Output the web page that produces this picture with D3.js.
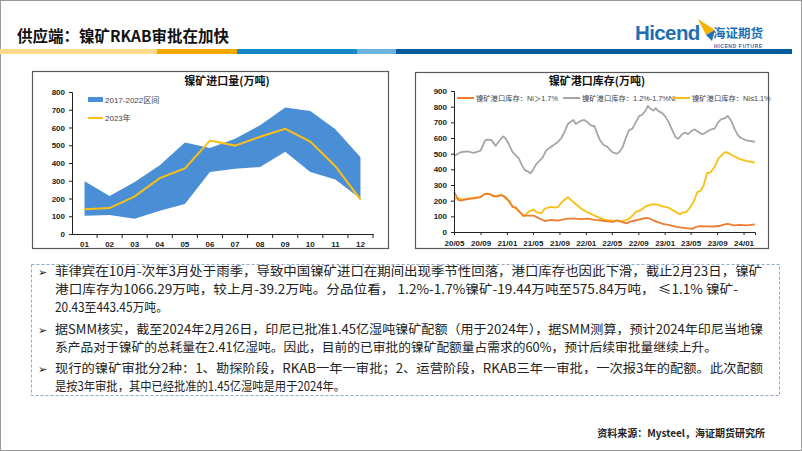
<!DOCTYPE html>
<html><head><meta charset="utf-8">
<script src="https://cdn.jsdelivr.net/npm/d3@7"></script>
<style>body{margin:0;background:#fff} svg{display:block}</style>
</head><body>
<svg id="c" width="802" height="451"></svg>
<script>
// ---------- DATA ----------
const months = ["01","02","03","04","05","06","07","08","09","10","11","12"];
const importMax = [297,214,293,387,515,485,537,612,712,693,590,432];
const importMin = [103,107,86,131,169,350,368,377,464,350,307,199];
const import2023 = [140,146,212,315,370,526,498,548,593,521,382,194];
const importTicks = [0,100,200,300,400,500,600,700,800];
const importLegend = ["2017-2022区间","2023年"];

const stockTicks = [0,100,200,300,400,500,600,700,800,900];
const stockLegend = ["镍矿港口库存：Ni＞1.7%","镍矿港口库存：1.2%-1.7%Ni","镍矿港口库存：Ni≤1.1%"];
const stockHigh = [["2020-05-01",255],["2020-05-10",235],["2020-05-20",205],["2020-06-01",200],["2020-07-01",210],["2020-08-01",215],["2020-09-01",222],["2020-09-16",240],["2020-10-01",245],["2020-10-16",240],["2020-11-01",230],["2020-11-16",228],["2020-12-07",235],["2020-12-22",225],["2021-01-13",195],["2021-01-28",160],["2021-02-12",155],["2021-02-27",130],["2021-03-19",105],["2021-04-13",105],["2021-05-04",105],["2021-05-19",95],["2021-06-10",80],["2021-06-25",70],["2021-07-25",78],["2021-08-10",75],["2021-08-25",72],["2021-09-19",80],["2021-10-10",85],["2021-11-10",85],["2021-12-10",82],["2022-01-10",85],["2022-02-10",78],["2022-03-07",75],["2022-04-07",68],["2022-05-07",65],["2022-05-25",75],["2022-06-22",62],["2022-07-10",55],["2022-07-22",65],["2022-08-22",75],["2022-09-13",82],["2022-10-07",90],["2022-10-25",85],["2022-11-16",70],["2022-12-07",60],["2022-12-28",50],["2023-01-19",45],["2023-02-19",35],["2023-03-13",30],["2023-04-10",25],["2023-05-10",20],["2023-05-25",32],["2023-06-16",38],["2023-07-16",36],["2023-08-16",35],["2023-09-16",40],["2023-10-07",48],["2023-10-20",52],["2023-11-16",42],["2023-12-16",45],["2024-01-16",42],["2024-02-23",48]];
const stockMid = [["2020-05-01",485],["2020-05-08",490],["2020-06-01",509],["2020-07-01",515],["2020-08-01",505],["2020-09-01",520],["2020-09-22",585],["2020-10-01",590],["2020-10-20",588],["2020-11-10",550],["2020-12-01",590],["2020-12-15",610],["2020-12-25",598],["2021-01-10",560],["2021-01-25",515],["2021-02-10",490],["2021-02-25",470],["2021-03-10",430],["2021-03-25",395],["2021-04-10",385],["2021-04-20",375],["2021-05-01",395],["2021-05-15",430],["2021-06-01",455],["2021-06-15",475],["2021-07-01",520],["2021-07-20",540],["2021-08-10",560],["2021-08-25",575],["2021-09-10",600],["2021-09-25",640],["2021-10-10",690],["2021-10-25",705],["2021-11-05",715],["2021-11-15",690],["2021-11-28",700],["2021-12-10",710],["2021-12-25",715],["2022-01-10",700],["2022-01-25",680],["2022-02-10",675],["2022-02-25",620],["2022-03-10",580],["2022-03-25",555],["2022-04-10",545],["2022-04-25",520],["2022-05-10",505],["2022-05-25",500],["2022-06-05",510],["2022-06-20",540],["2022-07-05",600],["2022-07-20",650],["2022-08-05",660],["2022-08-20",700],["2022-09-05",740],["2022-09-20",750],["2022-10-05",775],["2022-10-15",805],["2022-10-28",785],["2022-11-10",775],["2022-11-20",790],["2022-12-05",770],["2022-12-20",760],["2023-01-05",735],["2023-01-20",700],["2023-02-05",650],["2023-02-20",605],["2023-03-05",595],["2023-03-20",620],["2023-04-05",635],["2023-04-20",625],["2023-05-05",645],["2023-05-20",655],["2023-06-05",640],["2023-06-20",625],["2023-07-05",630],["2023-07-20",645],["2023-08-05",655],["2023-08-20",660],["2023-09-05",700],["2023-09-20",720],["2023-10-05",725],["2023-10-20",740],["2023-11-05",710],["2023-11-20",660],["2023-12-05",620],["2023-12-20",600],["2024-01-15",585],["2024-02-23",576]];
const stockLow = [["2020-05-01",210],["2020-05-16",218],["2020-06-01",210],["2020-07-01",212],["2020-08-01",220],["2020-09-01",222],["2020-09-16",240],["2020-10-01",245],["2020-10-16",242],["2020-11-01",225],["2020-11-16",230],["2020-12-07",238],["2020-12-22",220],["2021-01-13",190],["2021-01-28",160],["2021-02-12",150],["2021-02-27",130],["2021-03-19",100],["2021-04-13",130],["2021-05-04",145],["2021-05-19",125],["2021-06-10",120],["2021-06-25",150],["2021-07-25",160],["2021-08-10",155],["2021-08-25",160],["2021-09-19",200],["2021-10-10",222],["2021-11-10",185],["2021-12-10",150],["2022-01-10",125],["2022-02-10",105],["2022-03-07",90],["2022-04-07",75],["2022-05-07",72],["2022-06-22",70],["2022-07-22",85],["2022-08-22",130],["2022-09-13",140],["2022-10-07",165],["2022-11-07",178],["2022-11-28",175],["2022-12-19",165],["2023-01-19",155],["2023-02-19",130],["2023-03-13",112],["2023-03-25",125],["2023-04-10",125],["2023-04-25",150],["2023-05-16",195],["2023-06-01",255],["2023-06-16",262],["2023-07-01",300],["2023-07-16",375],["2023-08-01",380],["2023-08-22",420],["2023-09-07",470],["2023-09-22",490],["2023-10-07",510],["2023-10-16",508],["2023-11-16",485],["2023-12-16",465],["2024-01-16",452],["2024-02-23",443]];

const titleText = "供应端：镍矿RKAB审批在加快";
const chart1Title = "镍矿进口量(万吨)";
const chart2Title = "镍矿港口库存(万吨)";
const paragraphs = [
  ["菲律宾在10月-次年3月处于雨季，导致中国镍矿进口在期间出现季节性回落，港口库存也因此下滑，截止2月23日，镍矿",
   "港口库存为1066.29万吨，较上月-39.2万吨。分品位看， 1.2%-1.7%镍矿-19.44万吨至575.84万吨， ≤1.1% 镍矿-",
   "20.43至443.45万吨。"],
  ["据SMM核实，截至2024年2月26日，印尼已批准1.45亿湿吨镍矿配额（用于2024年），据SMM测算，预计2024年印尼当地镍",
   "系产品对于镍矿的总耗量在2.41亿湿吨。因此，目前的已审批的镍矿配额量占需求的60%，预计后续审批量继续上升。"],
  ["现行的镍矿审批分2种：1、勘探阶段，RKAB一年一审批；2、运营阶段，RKAB三年一审批，一次报3年的配额。此次配额",
   "是按3年审批，其中已经批准的1.45亿湿吨是用于2024年。"]
];
const sourceText = "资料来源：Mysteel，海证期货研究所";

// ---------- DRAW ----------
const svg = d3.select("#c");
const CJK = "'Noto Sans CJK SC','Noto Sans',sans-serif";
const SANS = "'Liberation Sans',Arial,'Noto Sans CJK SC',sans-serif";

svg.append("rect").attr("x",0.5).attr("y",0.5).attr("width",801).attr("height",450)
  .attr("fill","#fff").attr("stroke","#9a9a9a");

// header
svg.append("text").attr("x",17).attr("y",42).attr("font-family",CJK).attr("font-size",15.5)
  .attr("font-weight",700).attr("fill","#111").text(titleText);
const bar = [[0,157,"#fdd98a"],[157,237,"#f4a900"],[237,357,"#1688c8"],[357,396,"#6db3e0"],[396,792,"#005c9f"]];
svg.selectAll("rect.bar").data(bar).join("rect").attr("class","bar")
  .attr("x",d=>d[0]).attr("y",49).attr("width",d=>d[1]-d[0]).attr("height",5).attr("fill",d=>d[2]);
// logo
svg.append("text").attr("x",635).attr("y",40).attr("font-family",SANS).attr("font-weight",700)
  .attr("font-size",20.5).attr("fill","#1f6fb2").attr("letter-spacing",-0.6).text("Hicend");
svg.append("path").attr("d","M698,19 L715,30 L706,35 Z").attr("fill","#f4b400");
svg.append("path").attr("d","M706,35 L715,30 L712,41 Z").attr("fill","#1f6fb2");
svg.append("text").attr("x",713).attr("y",38).attr("font-family",CJK).attr("font-weight",700)
  .attr("font-size",12.5).attr("fill","#1f6fb2").text("海证期货");
svg.append("text").attr("x",714).attr("y",47.5).attr("font-family",SANS).attr("font-weight",700)
  .attr("font-size",5).attr("fill","#1f6fb2").attr("letter-spacing",0.6).text("HICEND  FUTURE");

// ---------- chart 1 ----------
const g1 = svg.append("g");
g1.append("rect").attr("x",32.5).attr("y",71.5).attr("width",356).attr("height",177)
  .attr("fill","#fff").attr("stroke","#595959").attr("stroke-width",1.2);
g1.append("text").attr("x",227).attr("y",85).attr("text-anchor","middle").attr("font-family",CJK)
  .attr("font-weight",700).attr("font-size",11).attr("fill","#111").text(chart1Title);
const x1 = d3.scaleBand().domain(months).range([72,373]);
const y1 = d3.scaleLinear().domain([0,800]).range([234,92]);
const area1 = d3.area().x(d=>x1(d.m)+x1.bandwidth()/2).y0(d=>y1(d.lo)).y1(d=>y1(d.hi));
const bandData = months.map((m,i)=>({m,hi:importMax[i],lo:importMin[i]}));
g1.append("path").datum(bandData).attr("d",area1).attr("fill","#4a8fd6");
g1.append("path").datum(months.map((m,i)=>({m,v:import2023[i]})))
  .attr("d",d3.line().x(d=>x1(d.m)+x1.bandwidth()/2).y(d=>y1(d.v)))
  .attr("fill","none").attr("stroke","#fbbf14").attr("stroke-width",2);
const ya1 = g1.append("g").attr("transform","translate(72,0)")
  .call(d3.axisLeft(y1).tickValues(importTicks).tickSize(3).tickPadding(4));
const xa1 = g1.append("g").attr("transform","translate(0,234)")
  .call(d3.axisBottom(x1).tickSize(0).tickPadding(7));
xa1.selectAll(".tick").append("line").attr("x1",x1.bandwidth()/2).attr("x2",x1.bandwidth()/2)
  .attr("y1",0).attr("y2",4).attr("stroke","#222");
[ya1,xa1].forEach(a=>{a.select(".domain").attr("stroke","#222");a.selectAll("line").attr("stroke","#222");
  a.selectAll("text").attr("font-family",SANS).attr("font-weight",700).attr("font-size",8).attr("fill","#222");});
// legend 1
g1.append("rect").attr("x",88).attr("y",97).attr("width",15).attr("height",5).attr("fill","#4a8fd6");
g1.append("line").attr("x1",88).attr("x2",103).attr("y1",118).attr("y2",118).attr("stroke","#fbbf14").attr("stroke-width",2);
g1.selectAll("text.lg").data(importLegend).join("text").attr("class","lg")
  .attr("x",105).attr("y",(d,i)=>102.5+i*18.5).attr("font-family",SANS).attr("font-size",8)
  .attr("fill","#444").text(d=>d);

// ---------- chart 2 ----------
const g2 = svg.append("g");
g2.append("rect").attr("x",415.5).attr("y",72.5).attr("width",353).attr("height",176)
  .attr("fill","#fff").attr("stroke","#595959").attr("stroke-width",1.2);
g2.append("text").attr("x",597).attr("y",85).attr("text-anchor","middle").attr("font-family",CJK)
  .attr("font-weight",700).attr("font-size",11).attr("fill","#111").text(chart2Title);
const parse = d3.timeParse("%Y-%m-%d");
const x2 = d3.scaleTime().domain([parse("2020-05-01"),parse("2024-02-23")]).range([454,755]);
const y2 = d3.scaleLinear().domain([0,900]).range([232,91]);
const line2 = d3.line().x(d=>x2(parse(d[0]))).y(d=>y2(d[1])).curve(d3.curveLinear);
const series = [[stockMid,"#a6a6a6"],[stockLow,"#fbbf14"],[stockHigh,"#ed7d31"]];
series.forEach(([s,c])=>g2.append("path").datum(s).attr("d",line2).attr("fill","none")
  .attr("stroke",c).attr("stroke-width",1.8).attr("stroke-linejoin","round"));
const xt2 = d3.range(0,45,4).map(k=>d3.timeMonth.offset(parse("2020-05-01"),k));
const ya2 = g2.append("g").attr("transform","translate(454,0)")
  .call(d3.axisLeft(y2).tickValues(stockTicks).tickSize(3).tickPadding(4));
const xa2 = g2.append("g").attr("transform","translate(0,232)")
  .call(d3.axisBottom(x2).tickValues(xt2).tickFormat(d3.timeFormat("%y/%m")).tickSize(3).tickPadding(5));
[ya2,xa2].forEach(a=>{a.select(".domain").attr("stroke","#222");a.selectAll("line").attr("stroke","#222");
  a.selectAll("text").attr("font-family",SANS).attr("font-weight",700).attr("font-size",8).attr("fill","#222");});
// legend 2
const lg2 = [[457,"#ed7d31"],[563,"#a6a6a6"],[673,"#fbbf14"]];
stockLegend.forEach((t,i)=>{
  g2.append("line").attr("x1",lg2[i][0]).attr("x2",lg2[i][0]+17).attr("y1",98).attr("y2",98)
    .attr("stroke",lg2[i][1]).attr("stroke-width",2);
  g2.append("text").attr("x",lg2[i][0]+19).attr("y",101).attr("font-family",SANS).attr("font-size",7.3)
    .attr("fill","#444").text(t);
});

// ---------- text box ----------
svg.append("rect").attr("x",31.5).attr("y",264.5).attr("width",748).attr("height",131)
  .attr("fill","none").attr("stroke","#8fa9c9").attr("stroke-dasharray","3,2");
const lineY = [[276,294,312],[334,352],[373,391]];
const lineLen = [[707,683,113],[708,662],[708,290]];
paragraphs.forEach((p,pi)=>{
  svg.append("text").attr("x",38).attr("y",lineY[pi][0]).attr("font-family","'DejaVu Sans'")
    .attr("font-size",11).attr("fill","#111").text("➢");
  p.forEach((ln,li)=>{
    svg.append("text").attr("x",55).attr("y",lineY[pi][li]).attr("font-family",CJK)
      .attr("font-size",12.5).attr("fill","#222")
      .attr("textLength",lineLen[pi][li]).attr("lengthAdjust","spacingAndGlyphs").text(ln);
  });
});
svg.append("text").attr("x",765).attr("y",437).attr("text-anchor","end").attr("font-family",CJK)
  .attr("font-weight",700).attr("font-size",10).attr("fill","#222").text(sourceText);
</script>
</body></html>
